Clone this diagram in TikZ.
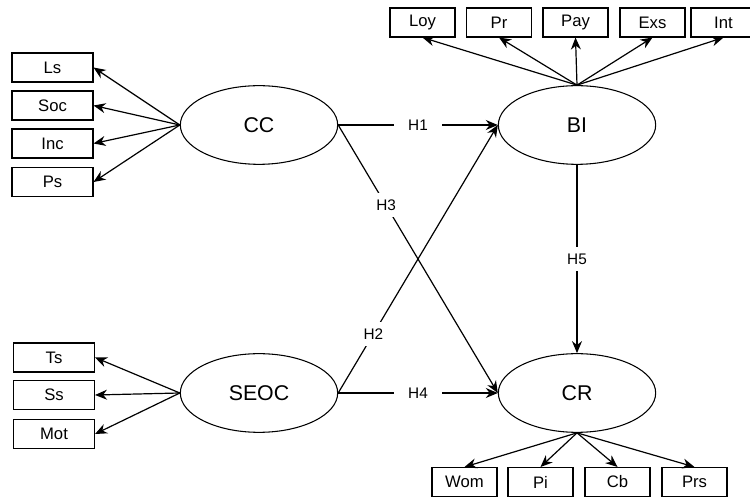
\documentclass[tikz,border=0pt]{standalone}
\usepackage{fontspec}
\setmainfont{Liberation Sans}
\usetikzlibrary{arrows.meta,shapes.geometric}
\begin{document}
\begin{tikzpicture}[x=0.75pt,y=-0.75pt,
  ind/.style={draw,line width=0.8pt,minimum width=48.75pt,minimum height=21.75pt,inner sep=0pt,font=\fontsize{12.5}{14}\selectfont},
  indl/.style={ind,minimum width=60.75pt},
  lat/.style={draw,line width=0.8pt,ellipse,minimum width=118pt,minimum height=59pt,inner sep=0pt,font=\fontsize{16}{18}\selectfont},
  arr/.style={-{Stealth[length=9pt,width=7.5pt]},line width=0.9pt},
  hyp/.style={fill=white,inner xsep=11pt,inner ysep=5pt,font=\fontsize{11.5}{13}\selectfont}]
\useasboundingbox (0,0) rectangle (750,498);
% latent variables
\node[lat] (CC) at (259,125) {CC};
\node[lat] (BI) at (577,125) {BI};
\node[lat] (SEOC) at (259,393) {SEOC};
\node[lat] (CR) at (577,393) {CR};
% left indicators CC
\node[indl] (Ls) at (52.5,67.5) {Ls};
\node[indl] (Soc) at (52.5,105.5) {Soc};
\node[indl] (Inc) at (52.5,143.5) {Inc};
\node[indl] (Ps) at (52.5,182) {Ps};
% left indicators SEOC
\node[indl] (Ts) at (54,357.5) {Ts};
\node[indl] (Ss) at (54,395) {Ss};
\node[indl] (Mot) at (54,434) {Mot};
% top indicators BI
\node[ind] (Loy) at (422.5,22.5) {Loy};
\node[ind] (Pr) at (499,22.5) {Pr};
\node[ind] (Pay) at (575.5,22.5) {Pay};
\node[ind] (Exs) at (652.5,22.5) {Exs};
\node[ind] (Int) at (723.5,22.5) {Int};
% bottom indicators CR
\node[ind] (Wom) at (464.5,482) {Wom};
\node[ind] (Pi) at (540.5,482) {Pi};
\node[ind] (Cb) at (617.5,482) {Cb};
\node[ind] (Prs) at (694.5,482) {Prs};
% loadings
\foreach \t in {Ls,Soc,Inc,Ps} \draw[arr] (CC.west) -- (\t.east);
\foreach \t in {Ts,Ss,Mot} \draw[arr] (SEOC.west) -- (\t.east);
\foreach \t in {Loy,Pr,Pay,Exs,Int} \draw[arr] (BI.north) -- (\t.south);
\foreach \t in {Wom,Pi,Cb,Prs} \draw[arr] (CR.south) -- (\t.north);
% hypotheses
\draw[arr] (CC.east) -- node[hyp] {H1} (BI.west);
\draw[arr] (SEOC.east) -- node[hyp] {H4} (CR.west);
\draw[arr] (BI.south) -- node[hyp] {H5} (CR.north);
\draw[arr] (CC.east) -- node[hyp,pos=0.3] {H3} (CR.west);
\draw[arr] (SEOC.east) -- node[hyp,pos=0.22] {H2} (BI.west);
\end{tikzpicture}
\end{document}
